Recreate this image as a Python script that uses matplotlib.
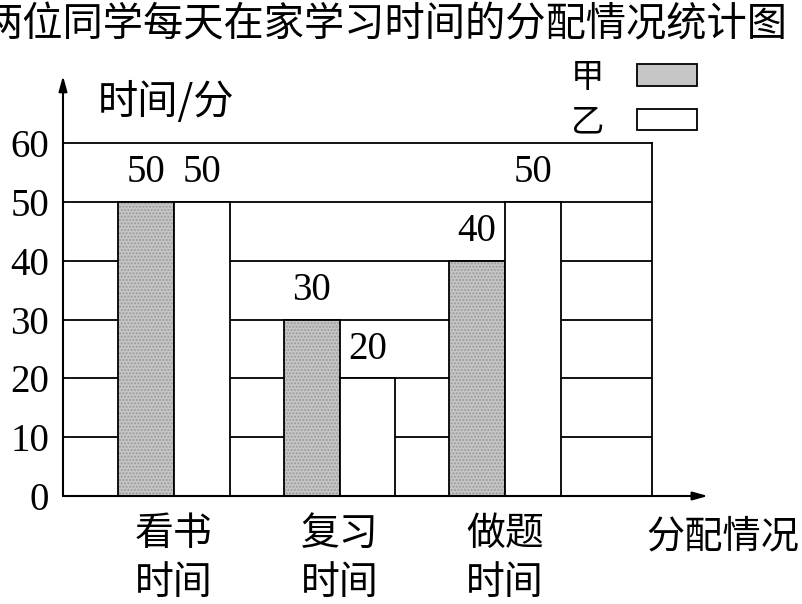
import numpy as np
import matplotlib.pyplot as plt
from matplotlib.patches import Patch

plt.rcParams['font.family'] = ['Noto Sans CJK SC', 'DejaVu Sans']

categories = ['看书\n时间', '复习\n时间', '做题\n时间']
jia = [50, 30, 40]
yi = [50, 20, 50]
yticks = [0, 10, 20, 30, 40, 50, 60]

num_font = 'Liberation Serif'
w = 0.338
x = np.arange(len(categories))

fig = plt.figure(figsize=(8.03, 6.04), dpi=100)
ax = fig.add_axes([63/803, 108/604, 589/803, 353/604])

# grid lines sit behind the bars
for t in yticks[1:-1]:
    ax.axhline(t, color='black', lw=1.3, zorder=1)

# jia: gray stipple
ax.bar(x - w/2, jia, w, color='#c6c6c6', edgecolor='#9a9a9a', hatch='.....',
       lw=0, zorder=2)
ax.bar(x - w/2, jia, w, facecolor='none', edgecolor='black', lw=1.3, zorder=3)
ax.bar(x + w/2, yi, w, color='white', edgecolor='black', lw=1.3, zorder=3)

for xi, v in zip(x - w/2, jia):
    ax.text(xi, v + 1.8, str(v), ha='center', va='bottom', fontsize=28,
            family=num_font)
for xi, v in zip(x + w/2, yi):
    ax.text(xi, v + 1.8, str(v), ha='center', va='bottom', fontsize=28,
            family=num_font)

ax.set_xlim(-0.671, 2.888)
ax.set_ylim(0, 60)
ax.set_yticks(yticks)
ax.set_yticklabels([str(t) for t in yticks], family=num_font, fontsize=28)
ax.set_xticks(x)
ax.set_xticklabels(categories, fontsize=28, linespacing=1.3)
ax.tick_params(length=0)
ax.tick_params(axis='y', pad=10)
ax.tick_params(axis='x', pad=13)

for s in ['top', 'right']:
    ax.spines[s].set_linewidth(1.3)
ax.spines['left'].set_visible(False)
ax.spines['bottom'].set_visible(False)

# axes with arrows
ax.annotate('', xy=(0, 1.19), xytext=(0, 0), xycoords='axes fraction',
            arrowprops=dict(arrowstyle='-|>,head_length=0.9,head_width=0.25',
                            color='black', lw=1.5, shrinkA=0, shrinkB=0))
ax.annotate('', xy=(1.095, 0), xytext=(0, 0), xycoords='axes fraction',
            arrowprops=dict(arrowstyle='-|>,head_length=0.9,head_width=0.25',
                            color='black', lw=1.5, shrinkA=0, shrinkB=0))

ax.text(0.059, 1.116, '时间/分', transform=ax.transAxes, fontsize=29,
        va='center', ha='left')
ax.text(0.991, -0.117, '分配情况', transform=ax.transAxes, fontsize=27.5,
        va='center', ha='left')

fig.text(788/803, 1 - 25/604, '两位同学每天在家学习时间的分配情况统计图',
         ha='right', va='center', fontsize=29)

handles = [Patch(facecolor='#c6c6c6', edgecolor='black', lw=1.3),
           Patch(facecolor='white', edgecolor='black', lw=1.3)]
ax.legend(handles, ['甲', '乙'], loc='upper right',
          bbox_to_anchor=(714/803, 1 - 43/604), bbox_transform=fig.transFigure,
          frameon=False, markerfirst=False, fontsize=24, borderpad=0,
          handlelength=1.8, handleheight=0.6, handletextpad=1.0,
          labelspacing=0.3)

fig.savefig('out.png', dpi=100)
